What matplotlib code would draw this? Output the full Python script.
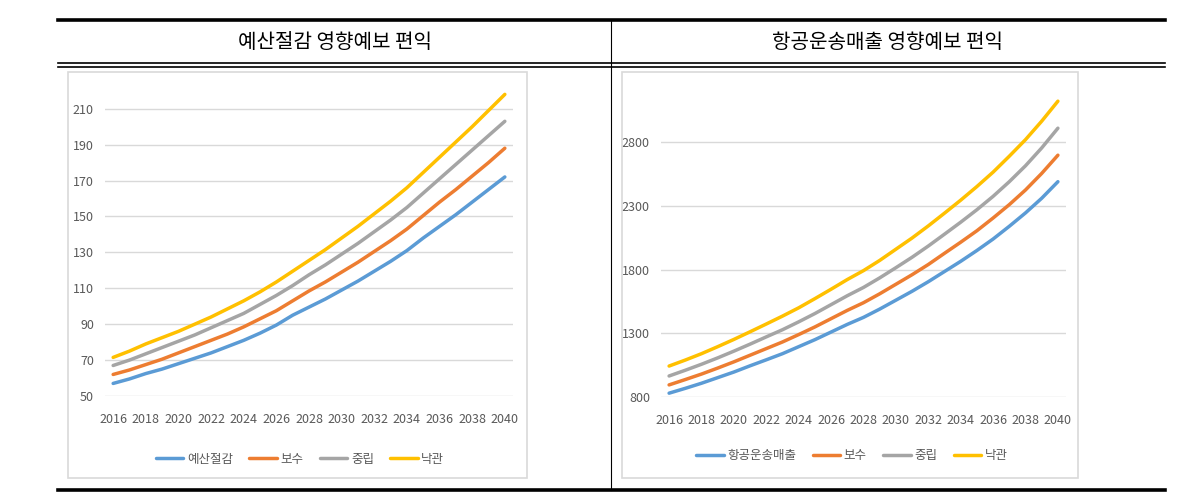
import matplotlib
matplotlib.use("Agg")
import matplotlib.pyplot as plt
from matplotlib.lines import Line2D
from matplotlib.patches import Rectangle

plt.rcParams['font.family'] = ['Noto Sans CJK KR', 'DejaVu Sans']

# --- Data ---
years = list(range(2016, 2041))

titles = ["예산절감 영향예보 편익", "항공운송매출 영향예보 편익"]
series_names_left = ["예산절감", "보수", "중립", "낙관"]
series_names_right = ["항공운송매출", "보수", "중립", "낙관"]

budget_base = [57, 59.5, 62.5, 65, 68, 71, 74, 77.5, 81, 85, 89.5, 95, 99.5,
               104, 109, 114, 119.5, 125, 131, 138, 144.5, 151, 158, 165, 172]
budget_cons = [62, 64.5, 67.5, 70.5, 74, 77.5, 81, 84.5, 88.5, 93, 97.5, 103, 108.5,
               113.5, 119, 124.5, 130.5, 136.5, 143, 150.5, 158, 165, 172.5, 180, 188]
budget_neut = [67, 70, 73.5, 77, 80.5, 84, 88, 92, 96, 101, 106, 111.5, 117.5,
               123, 129, 135, 141.5, 148, 155, 163, 171, 179, 187, 195, 203]
budget_opt = [71.5, 75, 79, 82.5, 86, 90, 94, 98.5, 103, 108, 113.5, 119.5, 125.5,
              131.5, 138, 144.5, 151.5, 158.5, 166, 174.5, 183, 191.5, 200, 209, 218]

air_base = [830, 868, 908, 952, 996, 1045, 1092, 1140, 1195, 1250, 1310, 1370, 1425,
            1490, 1560, 1630, 1705, 1785, 1865, 1950, 2040, 2140, 2245, 2360, 2490]
air_cons = [895, 937, 980, 1027, 1076, 1128, 1180, 1232, 1290, 1350, 1415, 1480, 1540,
            1610, 1685, 1760, 1840, 1928, 2015, 2105, 2205, 2310, 2425, 2555, 2698]
air_neut = [965, 1010, 1057, 1107, 1160, 1215, 1272, 1328, 1390, 1455, 1525, 1595, 1660,
            1735, 1815, 1897, 1985, 2078, 2172, 2270, 2375, 2490, 2615, 2755, 2910]
air_opt = [1043, 1090, 1140, 1195, 1252, 1312, 1373, 1435, 1500, 1572, 1646, 1722, 1792,
           1872, 1960, 2048, 2143, 2243, 2345, 2452, 2565, 2690, 2820, 2965, 3122]

colors = ["#5B9BD5", "#ED7D31", "#A5A5A5", "#FFC000"]

# --- Figure ---
W, H = 1194, 498
fig = plt.figure(figsize=(W / 100, H / 100), dpi=100)


def fx(px):
    return px / W


def fy(py):
    return 1 - py / H


def hline(y, x0, x1, lw):
    fig.add_artist(Line2D([fx(x0), fx(x1)], [fy(y), fy(y)], color="black", lw=lw,
                          transform=fig.transFigure))


# table rules
hline(20, 58, 1165, 2.6)
hline(63, 58, 1165, 1.2)
hline(67, 58, 1165, 1.2)
hline(490, 58, 1165, 2.6)
fig.add_artist(Line2D([fx(611), fx(611)], [fy(20), fy(490)], color="black", lw=0.8,
                      transform=fig.transFigure))

fig.text(fx(335), fy(42), titles[0], ha="center", va="center", fontsize=14.5,
         fontweight="light")
fig.text(fx(888), fy(42), titles[1], ha="center", va="center", fontsize=14.5,
         fontweight="light")

# chart frames
for x0, x1 in [(68, 527), (622, 1078)]:
    fig.add_artist(Rectangle((fx(x0), fy(478)), fx(x1 - x0), (478 - 72) / H,
                             fill=False, edgecolor="#D9D9D9", lw=1.2,
                             transform=fig.transFigure))


def make_chart(ax, data, names, yticks, ylim, legend_y, legend_x):
    for vals, name, c in zip(data, names, colors):
        ax.plot(years, vals, color=c, lw=2.5, label=name, solid_capstyle="round")
    ax.set_xlim(2015.5, 2040.5)
    ax.set_ylim(*ylim)
    ax.set_yticks(yticks)
    ax.set_xticks(years[::2])
    ax.grid(axis="y", color="#D9D9D9", lw=1)
    ax.set_axisbelow(True)
    for s in ax.spines.values():
        s.set_visible(False)
    ax.tick_params(length=0, labelsize=9, labelcolor="#595959")
    ax.tick_params(axis="x", pad=12)
    ax.tick_params(axis="y", pad=8)
    ax.legend(loc="center", bbox_to_anchor=(fx(legend_x), fy(legend_y)),
              bbox_transform=fig.transFigure, ncol=4, frameon=False,
              fontsize=9, handlelength=2.2, handletextpad=0.3, columnspacing=1.3,
              labelcolor="#595959")


ax1 = fig.add_axes([fx(105), fy(396), fx(408), (396 - 80) / H])
make_chart(ax1, [budget_base, budget_cons, budget_neut, budget_opt], series_names_left,
           list(range(50, 211, 20)), (50, 226), 459, 300)

ax2 = fig.add_axes([fx(661), fy(397), fx(405), (397 - 78.5) / H])
make_chart(ax2, [air_base, air_cons, air_neut, air_opt], series_names_right,
           list(range(800, 2801, 500)), (800, 3300), 456, 852)

fig.savefig("out.png", dpi=100)
